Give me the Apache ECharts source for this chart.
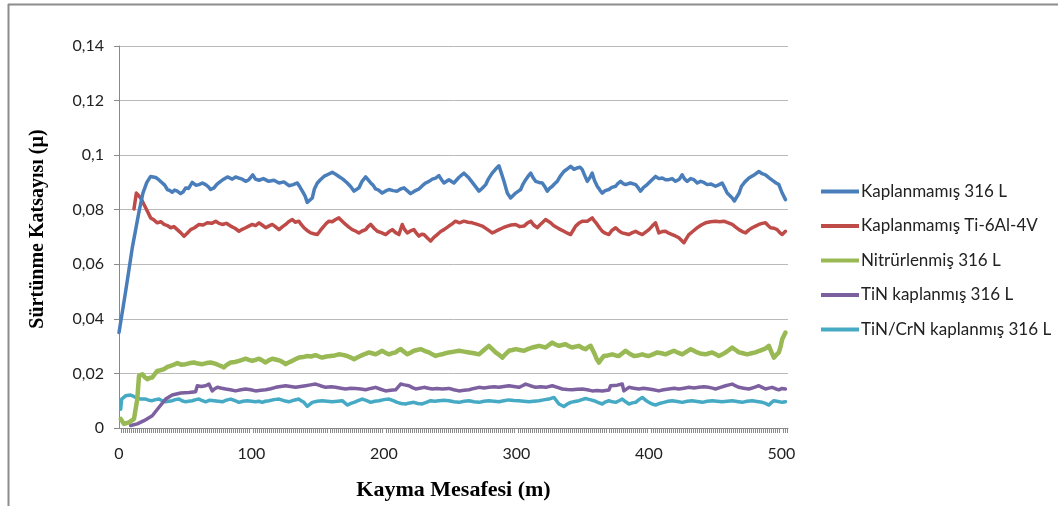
<!DOCTYPE html>
<html>
<head>
<meta charset="utf-8">
<script src="https://cdn.jsdelivr.net/npm/echarts@6/dist/echarts.min.js"></script>
<style>
  html, body { margin: 0; padding: 0; background: #ffffff; }
  #chart { width: 1058px; height: 506px; }
</style>
</head>
<body>
<div id="chart"></div>
<script>
// Friction coefficient vs sliding distance for five surface conditions.
// Each series is a list of [distance (m), coefficient] readings.

const seriesNames = [
  'Kaplanmamış 316 L',
  'Kaplanmamış Ti-6Al-4V',
  'Nitrürlenmiş 316 L',
  'TiN kaplanmış 316 L',
  'TiN/CrN kaplanmış 316 L'
];

const seriesColors = ['#4A7EBB', '#BE4B48', '#98B954', '#7D60A0', '#46AAC5'];

const yTicks = [0, 0.02, 0.04, 0.06, 0.08, 0.1, 0.12, 0.14];
const xTicks = [0, 100, 200, 300, 400, 500];

const uncoated316L = [
  [0, 0.035], [5, 0.050], [10, 0.066], [15, 0.079], [18, 0.086], [21, 0.090],
  [23.9, 0.0922], [27.7, 0.0918], [30, 0.0910], [32.7, 0.0898], [34.5, 0.0890], [36.5, 0.0874], [38.5, 0.0870], [40.2, 0.0864],
  [42, 0.0872], [44, 0.0868], [46.5, 0.0859], [48.5, 0.0866], [50.3, 0.0880], [52.5, 0.0878], [55.3, 0.0900], [58, 0.0890], [60.4, 0.0892],
  [63, 0.0898], [65.4, 0.0892], [67.5, 0.0884], [69.2, 0.0874], [71.7, 0.0880], [74, 0.0894], [76.7, 0.0904], [79, 0.0912], [81.8, 0.0920],
  [85.5, 0.0912], [88, 0.0920], [90.6, 0.0916], [93, 0.0912], [95.6, 0.0904], [98, 0.0910], [101, 0.0928], [103, 0.0912], [105.7, 0.0908],
  [109, 0.0914], [113, 0.0904], [117, 0.0908], [120.8, 0.0898], [124.5, 0.0902], [128.3, 0.0888], [131.5, 0.0892], [134.6, 0.0898], [136.5, 0.0884], [138.4, 0.0868],
  [140.5, 0.0850], [142.1, 0.0827], [145.9, 0.0843], [147.5, 0.0876], [149.7, 0.0898], [152, 0.0910], [154.7, 0.0922], [158, 0.0930], [161, 0.0937],
  [163.5, 0.0930], [166, 0.0922], [169, 0.0912], [172.3, 0.0898], [175, 0.0884], [177.4, 0.0868], [179.2, 0.0874], [181.1, 0.0880], [183.5, 0.0904], [186.2, 0.0920],
  [190, 0.0898], [191.8, 0.0890], [193.7, 0.0876], [196, 0.0872], [198.7, 0.0861], [201, 0.0868], [203.8, 0.0874], [207, 0.0870], [210, 0.0868],
  [212.5, 0.0876], [215.1, 0.0880], [217.5, 0.0870], [220.1, 0.0859], [223, 0.0868], [226.4, 0.0876], [229, 0.0888], [231.5, 0.0898], [234, 0.0904], [236.5, 0.0912],
  [239, 0.0916], [241.5, 0.0925], [243.5, 0.0910], [245.3, 0.0898], [249, 0.0910], [252.8, 0.0898], [256.5, 0.0918], [260.4, 0.0934],
  [264.2, 0.0916], [268, 0.0892], [271.7, 0.0868], [274, 0.0878], [276.8, 0.0892], [279, 0.0914], [281.7, 0.0934], [284.5, 0.0950], [286.8, 0.0961],
  [288.5, 0.0936], [290.6, 0.0904], [293.1, 0.0861], [295.6, 0.0843], [297.5, 0.0852], [299.4, 0.0861], [301.5, 0.0868], [303.2, 0.0874],
  [305, 0.0894], [307, 0.0910], [309, 0.0924], [310.8, 0.0934], [312.5, 0.0918], [314.5, 0.0904], [317, 0.0900], [319.5, 0.0898], [321.5, 0.0884], [323.3, 0.0868],
  [325, 0.0878], [327.1, 0.0886], [329, 0.0896], [330.8, 0.0904], [333, 0.0922], [335.8, 0.0940], [338.5, 0.0950], [340.9, 0.0959], [343.5, 0.0948], [345.9, 0.0953],
  [348, 0.0956], [349.7, 0.0947], [351.5, 0.0926], [353.5, 0.0904], [355.5, 0.0918], [357.2, 0.0934], [359, 0.0906], [361, 0.0886], [363, 0.0872], [364.8, 0.0861],
  [367, 0.0870], [369.8, 0.0874], [372, 0.0882], [374.9, 0.0886], [376.5, 0.0896], [378.6, 0.0904], [380.5, 0.0896], [382.4, 0.0892], [386, 0.0898], [390, 0.0892],
  [392, 0.0880], [393.7, 0.0868], [396, 0.0882], [398.7, 0.0892], [402, 0.0908], [405, 0.0922], [407.5, 0.0914], [410.1, 0.0916], [412.5, 0.0910], [415.1, 0.0910],
  [417.5, 0.0914], [420.1, 0.0904], [423, 0.0912], [425.1, 0.0928], [427, 0.0912], [428.9, 0.0904], [431.5, 0.0914], [434, 0.0910], [436.5, 0.0898], [439, 0.0904],
  [441.5, 0.0900], [444, 0.0892], [447, 0.0894], [450.3, 0.0886], [453, 0.0892], [455.3, 0.0898], [457.2, 0.0880], [459.1, 0.0861], [461, 0.0852], [462.9, 0.0843],
  [464.5, 0.0832], [465.9, 0.0825], [468, 0.0860], [469.9, 0.0886], [472.5, 0.0902], [475.5, 0.0916], [479, 0.0926], [483, 0.0940], [485.5, 0.0932], [488, 0.0928],
  [491, 0.0916], [494.3, 0.0904], [496, 0.0898], [498.1, 0.0892], [500.6, 0.0861], [503.1, 0.0837]
];

const uncoatedTi6Al4V = [
  [11.3, 0.0803], [13.1, 0.0861], [16.4, 0.0843], [20.1, 0.0807], [23.9, 0.0770],
  [26.5, 0.0762], [28.9, 0.0752], [31.5, 0.0756], [34, 0.0746], [36.5, 0.0742], [39, 0.0734], [41.5, 0.0738], [44, 0.0727], [46.5, 0.0716], [49.1, 0.0703],
  [51.5, 0.0714], [54.1, 0.0727], [57, 0.0734], [60.4, 0.0746], [63.5, 0.0744], [66.7, 0.0752], [70, 0.0750], [73, 0.0758], [75.5, 0.0750], [78, 0.0746],
  [81, 0.0750], [84.3, 0.0740], [87.5, 0.0732], [90.6, 0.0721], [93, 0.0728], [95.6, 0.0734], [98, 0.0740], [100.6, 0.0746], [103, 0.0742], [105.7, 0.0752],
  [108, 0.0744], [110.7, 0.0734], [113, 0.0740], [115.7, 0.0746], [118, 0.0738], [120.8, 0.0727], [123, 0.0736], [125.8, 0.0746], [128, 0.0756], [130.8, 0.0764],
  [133, 0.0754], [135.8, 0.0758], [137.5, 0.0746], [139.6, 0.0734], [142, 0.0724], [144.7, 0.0715], [147, 0.0712], [149.7, 0.0709], [152, 0.0724], [154.7, 0.0740],
  [156.5, 0.0750], [158.5, 0.0758], [161, 0.0756], [163.5, 0.0764], [166, 0.0770], [168.5, 0.0758], [171.1, 0.0746], [173.5, 0.0736], [176.1, 0.0727],
  [178.5, 0.0722], [181.1, 0.0715], [183.5, 0.0722], [186.2, 0.0727], [188, 0.0738], [190, 0.0746], [192.5, 0.0732], [195, 0.0721], [198, 0.0716], [201.3, 0.0709],
  [204, 0.0720], [206.3, 0.0727], [208.8, 0.0716], [211.3, 0.0709], [213.8, 0.0746], [215.5, 0.0728], [217.6, 0.0715], [220, 0.0722], [222.6, 0.0727],
  [224.5, 0.0714], [226.4, 0.0703], [228.5, 0.0710], [230.2, 0.0709], [232.8, 0.0696], [235.2, 0.0685], [237.5, 0.0698], [240.2, 0.0709], [242.8, 0.0720], [245.3, 0.0727],
  [249, 0.0740], [251.5, 0.0748], [254, 0.0758], [257, 0.0752], [260.4, 0.0758], [263.5, 0.0754], [266.7, 0.0752], [270.5, 0.0746], [274.2, 0.0740], [278, 0.0728],
  [281.7, 0.0715], [284, 0.0720], [286.8, 0.0727], [290, 0.0734], [293.1, 0.0740], [296, 0.0744], [299.4, 0.0746], [302.5, 0.0738], [305.7, 0.0740], [308, 0.0750],
  [310.8, 0.0758], [313, 0.0744], [315.7, 0.0734], [318.5, 0.0748], [322, 0.0764], [325.8, 0.0752], [328, 0.0742], [330.8, 0.0734], [333, 0.0728],
  [335.8, 0.0721], [338.5, 0.0714], [340.9, 0.0709], [342.5, 0.0722], [344.7, 0.0740], [347, 0.0750], [349.7, 0.0758], [353.5, 0.0758],
  [357.2, 0.0770], [359, 0.0758], [361, 0.0746], [363, 0.0732], [364.8, 0.0721], [367, 0.0714], [369.8, 0.0709], [372, 0.0724], [374.9, 0.0734], [377.5, 0.0722],
  [379.9, 0.0715], [382.5, 0.0712], [384.9, 0.0709], [387.5, 0.0716], [390, 0.0721], [392.5, 0.0714], [395, 0.0709], [397.5, 0.0718], [400, 0.0727], [402.5, 0.0740],
  [405, 0.0752], [407.5, 0.0715], [410, 0.0720], [412.6, 0.0721], [415, 0.0714], [417.6, 0.0709], [420, 0.0704], [422.6, 0.0697],
  [424.5, 0.0688], [426.4, 0.0679], [428.5, 0.0696], [430.2, 0.0709], [433.5, 0.0722], [436.5, 0.0734], [439.5, 0.0744], [442.8, 0.0752], [446.5, 0.0756], [450.3, 0.0758],
  [453.5, 0.0756], [456.6, 0.0758], [460, 0.0752], [462.9, 0.0746], [465.5, 0.0736], [468, 0.0727], [470.5, 0.0720], [473, 0.0715], [475.5, 0.0726], [478, 0.0734],
  [480.5, 0.0740], [483, 0.0746], [485.5, 0.0750], [488, 0.0752], [490, 0.0742], [491.8, 0.0734], [494.5, 0.0732], [496.8, 0.0727], [498.8, 0.0716], [500.6, 0.0709],
  [503.1, 0.0721]
];

const nitrided316L = [
  [1.3, 0.0033], [3.8, 0.0015], [7.5, 0.0021], [11.3, 0.0033], [13.8, 0.0106],
  [15.1, 0.0191], [17.6, 0.0197], [19.5, 0.0186], [21.4, 0.0179], [23.5, 0.0184], [25.1, 0.0185], [27, 0.0198], [28.9, 0.0209],
  [31.5, 0.0212], [34, 0.0216], [36.5, 0.0224], [39, 0.0228], [41.5, 0.0232], [44, 0.0238], [47, 0.0232], [50.3, 0.0234], [53.5, 0.0238], [56.6, 0.0240],
  [59.5, 0.0236], [62.9, 0.0234], [66, 0.0238], [69.2, 0.0240], [72.5, 0.0236], [75.5, 0.0230], [77.5, 0.0226], [79.2, 0.0222], [81.5, 0.0232], [84.3, 0.0240],
  [87.5, 0.0242], [90.6, 0.0246], [93, 0.0250], [95.6, 0.0254], [98, 0.0250], [100.6, 0.0246], [103, 0.0250], [105.7, 0.0254], [108, 0.0248], [110.7, 0.0240],
  [113, 0.0248], [115.7, 0.0254], [119, 0.0250], [122, 0.0246], [124, 0.0240], [125.8, 0.0234], [128, 0.0240], [130.8, 0.0246], [133, 0.0252], [135.8, 0.0258],
  [139, 0.0260], [142.1, 0.0264], [145, 0.0262], [148.4, 0.0267], [151, 0.0262], [153.4, 0.0258], [156.5, 0.0262], [159.8, 0.0264], [163, 0.0266], [166, 0.0270],
  [169, 0.0268], [172.3, 0.0264], [175, 0.0258], [177.4, 0.0252], [180.5, 0.0260], [183.6, 0.0267], [186, 0.0272], [188.7, 0.0277], [191, 0.0274], [193.7, 0.0270],
  [196, 0.0276], [198.7, 0.0283], [201, 0.0276], [203.8, 0.0270], [206, 0.0274], [208.8, 0.0277], [210.5, 0.0284], [212.6, 0.0289], [215, 0.0280], [217.6, 0.0270],
  [220, 0.0276], [222.6, 0.0283], [225, 0.0286], [227.7, 0.0289], [231, 0.0282], [234, 0.0277], [236.5, 0.0270], [239, 0.0264], [241.5, 0.0268], [244, 0.0270],
  [246.5, 0.0274], [249, 0.0277], [253, 0.0280], [256.6, 0.0283], [260.5, 0.0280], [264.2, 0.0277], [268, 0.0274], [271.7, 0.0270], [275.5, 0.0286], [279.2, 0.0301],
  [282, 0.0288], [284.3, 0.0277], [287, 0.0268], [289.3, 0.0258], [292, 0.0272], [294.3, 0.0283], [297, 0.0286], [299.4, 0.0289], [302.5, 0.0286], [305.7, 0.0283],
  [309, 0.0290], [311.9, 0.0295], [314.5, 0.0298], [317, 0.0301], [319.5, 0.0298], [322, 0.0295], [324.5, 0.0304], [327, 0.0313], [329.5, 0.0306], [332.1, 0.0301],
  [334.5, 0.0304], [337.1, 0.0307], [339.5, 0.0300], [342.1, 0.0295], [344.5, 0.0298], [347.2, 0.0301], [349.5, 0.0294], [352.2, 0.0289], [354, 0.0296], [356, 0.0301],
  [358.5, 0.0277], [360.5, 0.0254], [362.3, 0.0240], [364, 0.0252], [366, 0.0264], [369, 0.0266], [372.3, 0.0270], [375, 0.0266], [377.4, 0.0264], [380, 0.0274],
  [382.4, 0.0283], [385.5, 0.0272], [388.7, 0.0264], [392, 0.0266], [395, 0.0270], [397.5, 0.0266], [400, 0.0264], [403, 0.0270], [406.3, 0.0277], [409.5, 0.0274],
  [412.6, 0.0270], [415.5, 0.0276], [418.9, 0.0283], [422, 0.0276], [425.1, 0.0270], [428.5, 0.0280], [431.5, 0.0289], [434, 0.0283], [436.5, 0.0277], [439.5, 0.0272],
  [442.8, 0.0270], [445.5, 0.0274], [447.8, 0.0277], [450.5, 0.0270], [452.8, 0.0264], [455.5, 0.0270], [457.9, 0.0277], [460.5, 0.0286], [462.9, 0.0295],
  [465.5, 0.0286], [468, 0.0277], [471, 0.0274], [474.2, 0.0270], [477.5, 0.0274], [480.5, 0.0277], [483.5, 0.0283], [486.8, 0.0289], [488.8, 0.0294], [490.6, 0.0301],
  [492.5, 0.0278], [494.3, 0.0258], [496.2, 0.0268], [498.1, 0.0277], [499.5, 0.0300], [500.6, 0.0325], [503.1, 0.0350]
];

const tinCoated316L = [
  [8.8, 0.0009], [13.8, 0.0015], [18.9, 0.0027], [25.1, 0.0045], [30.2, 0.0076],
  [35.2, 0.0106], [40.2, 0.0121], [46.5, 0.0128], [52.8, 0.0130], [57.8, 0.0133],
  [59.1, 0.0155], [62, 0.0152], [65.4, 0.0155], [67.9, 0.0161], [70.4, 0.0136], [72.3, 0.0144], [74.2, 0.0149],
  [77.5, 0.0146], [80.5, 0.0143], [84, 0.0140], [88, 0.0136], [92, 0.0140], [95.6, 0.0143], [99.5, 0.0140], [103.1, 0.0136], [107, 0.0138], [110.7, 0.0140],
  [114.5, 0.0144], [118.2, 0.0149], [122, 0.0152], [125.8, 0.0155], [129.5, 0.0152], [133.3, 0.0149], [137, 0.0152], [140.9, 0.0155], [144.5, 0.0158], [148.4, 0.0161],
  [152, 0.0155], [156, 0.0149], [160, 0.0151], [163.5, 0.0149], [167.5, 0.0146], [171.1, 0.0143], [175, 0.0146], [178.6, 0.0145], [182.5, 0.0143], [186.2, 0.0140],
  [190, 0.0145], [193.7, 0.0149], [197.5, 0.0142], [201.3, 0.0136], [205, 0.0138], [208.8, 0.0140], [212.6, 0.0161], [215.5, 0.0158], [218.9, 0.0155],
  [221.5, 0.0148], [223.9, 0.0143], [227, 0.0146], [230.2, 0.0149], [233.5, 0.0146], [236.5, 0.0143], [240, 0.0145], [244, 0.0143], [249, 0.0145],
  [252.8, 0.0140], [256.6, 0.0136], [260.5, 0.0138], [264.2, 0.0140], [268, 0.0145], [271.7, 0.0149], [275.5, 0.0147], [279.2, 0.0149], [283, 0.0151], [286.8, 0.0149],
  [290.5, 0.0152], [294.3, 0.0155], [298, 0.0152], [301.9, 0.0149], [304.5, 0.0155], [306.9, 0.0161], [310.5, 0.0155], [314.5, 0.0149], [318.5, 0.0151], [322, 0.0149],
  [327.1, 0.0155], [331, 0.0149], [334.6, 0.0143], [338.5, 0.0141], [342.1, 0.0140], [346, 0.0142], [349.7, 0.0143], [353.5, 0.0140], [357.2, 0.0136],
  [361, 0.0137], [364.8, 0.0136], [369.8, 0.0139], [371.1, 0.0155], [376.1, 0.0157], [379.9, 0.0161],
  [381.1, 0.0136], [384.9, 0.0149], [388.5, 0.0146], [392.5, 0.0143], [396, 0.0146], [400, 0.0143], [403.5, 0.0140], [407.5, 0.0136], [411, 0.0140],
  [415.1, 0.0143], [419, 0.0146], [422.6, 0.0143], [426.5, 0.0146], [430.2, 0.0149], [434, 0.0147], [437.7, 0.0149], [441.5, 0.0151], [445.3, 0.0149],
  [448, 0.0146], [450.3, 0.0143], [454, 0.0149], [457.9, 0.0155], [460.5, 0.0158], [462.9, 0.0161], [465.5, 0.0154], [468, 0.0149], [471.5, 0.0146], [475.5, 0.0143],
  [479.5, 0.0149], [483, 0.0155], [485.5, 0.0149], [488, 0.0143], [490.5, 0.0146], [493, 0.0149], [495.5, 0.0144], [498.1, 0.0140], [500.5, 0.0145], [503.1, 0.0143]
];

const tinCrnCoated316L = [
  [1.3, 0.0069], [2, 0.0106], [5, 0.0118], [8.8, 0.0121], [12.6, 0.0112],
  [16.4, 0.0106], [20.1, 0.0106], [22.5, 0.0102], [25.1, 0.0100], [27.5, 0.0104], [30.2, 0.0106], [32.5, 0.0100], [35.2, 0.0096],
  [37.5, 0.0098], [40.2, 0.0100], [42.5, 0.0104], [45.3, 0.0106], [47.5, 0.0100], [50.3, 0.0096], [52.5, 0.0098], [55.3, 0.0100], [58, 0.0104], [60.4, 0.0106],
  [63, 0.0100], [65.4, 0.0096], [68.5, 0.0102], [71.7, 0.0100], [75, 0.0098], [78, 0.0096], [81, 0.0102], [84.3, 0.0106], [87.5, 0.0100], [90.6, 0.0094],
  [93.5, 0.0098], [96.9, 0.0100], [100, 0.0098], [103.1, 0.0096], [105.5, 0.0098], [108.2, 0.0094], [110.5, 0.0098], [113.2, 0.0100], [117, 0.0104], [120.8, 0.0106],
  [124.5, 0.0100], [128.3, 0.0096], [132, 0.0102], [135.8, 0.0106], [137.5, 0.0100], [139.6, 0.0094], [142.1, 0.0079], [145.9, 0.0094],
  [149.5, 0.0098], [153.4, 0.0100], [157, 0.0098], [161, 0.0096], [165, 0.0098], [168.5, 0.0100], [170.5, 0.0092], [172.3, 0.0084], [175, 0.0090], [177.4, 0.0094],
  [180.5, 0.0100], [183.6, 0.0106], [187, 0.0100], [190, 0.0094], [193, 0.0098], [196.2, 0.0100], [200, 0.0104], [203.8, 0.0106], [207, 0.0100], [210, 0.0094],
  [213, 0.0090], [216.3, 0.0088], [219.5, 0.0092], [222.6, 0.0094], [225.5, 0.0090], [228.9, 0.0088], [232, 0.0094], [235.2, 0.0100], [238.5, 0.0098], [241.5, 0.0100],
  [245, 0.0102], [249, 0.0100], [252.8, 0.0096], [256.6, 0.0094], [260.5, 0.0098], [264.2, 0.0100], [268, 0.0096], [271.7, 0.0094], [275.5, 0.0098], [279.2, 0.0100],
  [283, 0.0098], [286.8, 0.0096], [290.5, 0.0100], [294.3, 0.0103], [298, 0.0101], [301.9, 0.0100], [305.5, 0.0098], [309.4, 0.0096], [313, 0.0098], [317, 0.0100],
  [320.5, 0.0103], [324.5, 0.0106], [328.3, 0.0112], [332.1, 0.0088], [335.8, 0.0079], [338.5, 0.0088], [340.9, 0.0094],
  [344, 0.0097], [347.2, 0.0100], [349.5, 0.0104], [352.2, 0.0108], [355.5, 0.0104], [358.5, 0.0100], [361.5, 0.0094], [364.8, 0.0088], [367, 0.0095], [369.8, 0.0100],
  [372.5, 0.0096], [374.9, 0.0094], [377.5, 0.0100], [379.9, 0.0106], [382.5, 0.0096], [384.9, 0.0088], [387.5, 0.0092], [390, 0.0094], [392.5, 0.0104], [395, 0.0112],
  [397.5, 0.0102], [400, 0.0094], [402.5, 0.0088], [405, 0.0084], [408, 0.0090], [411.3, 0.0094], [414.5, 0.0098], [417.6, 0.0100], [421.5, 0.0097], [425.1, 0.0094],
  [429, 0.0098], [432.7, 0.0100], [436.5, 0.0097], [440.3, 0.0094], [444, 0.0098], [447.8, 0.0100], [451.5, 0.0098], [455.3, 0.0096], [459, 0.0098], [462.9, 0.0100],
  [466.5, 0.0097], [470.4, 0.0094], [474, 0.0098], [478, 0.0100], [481.5, 0.0097], [485.5, 0.0094], [488, 0.0090], [490.6, 0.0084], [492.5, 0.0093], [494.3, 0.0100],
  [497.5, 0.0097], [500.6, 0.0094], [503.1, 0.0096]
];

const seriesData = [uncoated316L, uncoatedTi6Al4V, nitrided316L, tinCoated316L, tinCrnCoated316L];
const lineWidths = [3.5, 3.5, 4.5, 3.5, 3.5];

const chart = echarts.init(document.getElementById('chart'), null, { renderer: 'canvas' });

const tickFont = 'Lato, "Open Sans", sans-serif';
const titleFont = '"Liberation Serif", "DejaVu Serif", serif';

chart.setOption({
  animation: false,
  backgroundColor: '#ffffff',
  color: seriesColors,
  grid: { left: 119, right: 270, top: 46, bottom: 77, containLabel: false },
  legend: {
    orient: 'vertical',
    left: 816,
    top: 178,
    itemWidth: 38,
    itemHeight: 4,
    itemGap: 17.5,
    icon: 'rect',
    textStyle: { fontFamily: tickFont, fontSize: 17, color: '#222', padding: [0, 0, 0, -3] },
    data: seriesNames
  },
  xAxis: {
    type: 'value',
    min: 0,
    max: 505,
    interval: 100,
    name: 'Kayma Mesafesi (m)',
    nameLocation: 'middle',
    nameGap: 51,
    nameTextStyle: { fontFamily: titleFont, fontWeight: 'bold', fontSize: 22, color: '#000' },
    axisLine: { show: true, lineStyle: { color: '#8a8a8a', width: 1 } },
    axisTick: { show: false },
    minorTick: { show: true, splitNumber: 66, length: 5, lineStyle: { color: '#8a8a8a', width: 1 } },
    splitLine: { show: false },
    minorSplitLine: { show: false },
    axisLabel: {
      margin: 18,
      fontFamily: tickFont,
      fontSize: 16,
      color: '#222',
      showMaxLabel: false,
      formatter: function (v) { return xTicks.indexOf(v) >= 0 ? String(v) : ''; }
    }
  },
  yAxis: {
    type: 'value',
    min: 0,
    max: 0.14,
    interval: 0.02,
    axisLine: { show: true, lineStyle: { color: '#8a8a8a', width: 1 } },
    axisTick: { show: true, length: 5, inside: false, lineStyle: { color: '#8a8a8a' } },
    splitLine: { show: true, lineStyle: { color: '#b9b9b9', width: 1 } },
    axisLabel: {
      margin: 15,
      fontFamily: tickFont,
      fontSize: 16,
      color: '#222',
      formatter: function (v) {
        const t = yTicks.find(function (k) { return Math.abs(k - v) < 1e-9; });
        return t === undefined ? '' : String(t).replace('.', ',');
      }
    }
  },
  graphic: [
    { type: 'line', shape: { x1: 8, y1: 4.5, x2: 1058, y2: 4.5 }, style: { stroke: '#8c8c8c', lineWidth: 2 }, silent: true },
    { type: 'line', shape: { x1: 8.5, y1: 4, x2: 8.5, y2: 506 }, style: { stroke: '#8c8c8c', lineWidth: 2 }, silent: true },
    {
      type: 'text',
      x: 38,
      y: 229,
      rotation: Math.PI / 2,
      style: {
        text: 'Sürtünme Katsayısı (µ)',
        font: 'bold 20px "Liberation Serif", "DejaVu Serif", serif',
        fill: '#000',
        align: 'center',
        verticalAlign: 'middle'
      },
      silent: true
    }
  ],
  series: seriesNames.map(function (name, i) {
    return {
      name: name,
      type: 'line',
      data: seriesData[i],
      showSymbol: false,
      symbol: 'none',
      smooth: false,
      lineStyle: { width: lineWidths[i], color: seriesColors[i], join: 'round', cap: 'round' },
      itemStyle: { color: seriesColors[i] },
      z: 10 - i
    };
  })
});
</script>
</body>
</html>
